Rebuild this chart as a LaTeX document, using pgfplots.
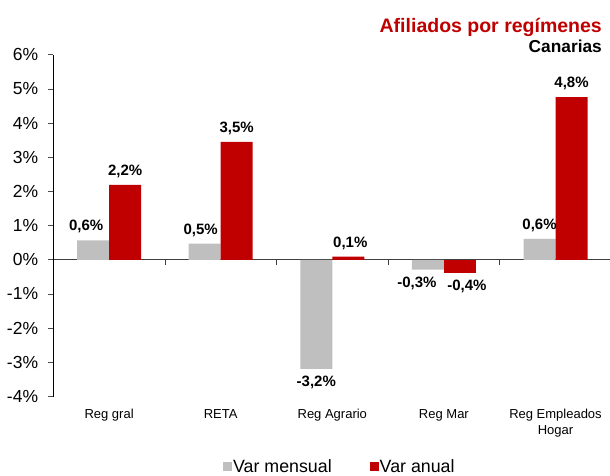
\documentclass[border=0pt]{standalone}
\usepackage{pgfplots}
\pgfplotsset{compat=1.18}
\usepackage{fontspec}
\setmainfont{Liberation Sans}
\definecolor{cred}{HTML}{C00000}
\definecolor{cgray}{HTML}{BFBFBF}
\begin{document}
\begin{tikzpicture}
\path[use as bounding box] (0,0) rectangle (610pt,-475pt);
\node[anchor=base east, text=cred, font=\bfseries\fontsize{19.5}{22}\selectfont, inner sep=0pt] at (602pt,-32pt) {Afiliados por regímenes};
\node[anchor=base east, font=\bfseries\fontsize{17.3}{20}\selectfont, inner sep=0pt] at (602pt,-52pt) {Canarias};
\begin{axis}[
  at={(53.3pt,-396.5pt)}, anchor=south west,
  scale only axis, width=558pt, height=341.8pt,
  xmin=-0.5, xmax=4.5, ymin=-4, ymax=6,
  clip=false,
  axis y line*=left, axis x line*=middle,
  y axis line style={black, line width=0.6pt},
  x axis line style={black!75, line width=0.8pt},
  ytick={-4,...,6},
  yticklabel={\pgfmathprintnumber{\tick}\%},
  /pgf/number format/assume math mode=true,
  yticklabel style={font=\fontsize{17.5}{20}\selectfont, inner sep=0pt, xshift=-10pt},
  ytick align=outside, xtick align=outside,
  major tick length=5pt,
  ytick style={black!70, line width=0.6pt},
  xtick style={black!75, line width=0.6pt},
  xtick={0.5,1.5,2.5,3.5}, xticklabels={},
  ybar=0pt, bar width=32pt,
  legend columns=2,
  legend style={at={(0.304,-0.205)}, anchor=west, draw=none, fill=none,
    font=\fontsize{17.8}{20}\selectfont, inner sep=0pt,
    nodes={inner xsep=1pt, inner ysep=0pt},
    /tikz/every even column/.append style={column sep=37pt}},
  legend image code/.code={\fill[#1] (0pt,-4.5pt) rectangle (9pt,4.5pt);},
  every node near coord/.append style={font=\bfseries\fontsize{15}{18}\selectfont, inner xsep=0pt, inner ysep=7pt, text=black},
]
% Var mensual (positive values)
\addplot[fill=cgray, draw=none, bar shift=-16pt, point meta=explicit symbolic,
  nodes near coords, nodes near coords align={above}]
  coordinates {(0,0.57) [\kern-14pt0,6\%] (1,0.47) [\kern-8pt0,5\%] (4,0.61) [0,6\%]};
% Var mensual (negative values)
\addplot[fill=cgray, draw=none, bar shift=-16pt, point meta=explicit symbolic, forget plot,
  nodes near coords, nodes near coords align={below}]
  coordinates {(2,-3.19) [-3,2\%] (3,-0.29) [\kern-22pt-0,3\%]};
% Var anual (positive values)
\addplot[fill=cred, draw=none, bar shift=16pt, point meta=explicit symbolic,
  nodes near coords, nodes near coords align={above}]
  coordinates {(0,2.19) [2,2\%] (1,3.45) [3,5\%] (2,0.09) [\kern4pt0,1\%] (4,4.76) [4,8\%]};
% Var anual (negative values)
\addplot[fill=cred, draw=none, bar shift=16pt, point meta=explicit symbolic, forget plot,
  nodes near coords, nodes near coords align={below}]
  coordinates {(3,-0.38) [\kern14pt-0,4\%]};
\legend{Var mensual, Var anual}
\node[anchor=north, align=center, inner sep=0pt, yshift=-12.5pt, font=\fontsize{13}{16}\selectfont] at (axis cs:0,-4) {Reg gral};
\node[anchor=north, align=center, inner sep=0pt, yshift=-12.5pt, font=\fontsize{13}{16}\selectfont] at (axis cs:1,-4) {RETA};
\node[anchor=north, align=center, inner sep=0pt, yshift=-12.5pt, font=\fontsize{13}{16}\selectfont] at (axis cs:2,-4) {Reg Agrario};
\node[anchor=north, align=center, inner sep=0pt, yshift=-12.5pt, font=\fontsize{13}{16}\selectfont] at (axis cs:3,-4) {Reg Mar};
\node[anchor=north, align=center, inner sep=0pt, yshift=-12.5pt, font=\fontsize{13}{16}\selectfont] at (axis cs:4,-4) {Reg Empleados\\Hogar};
\end{axis}
\end{tikzpicture}
\end{document}
